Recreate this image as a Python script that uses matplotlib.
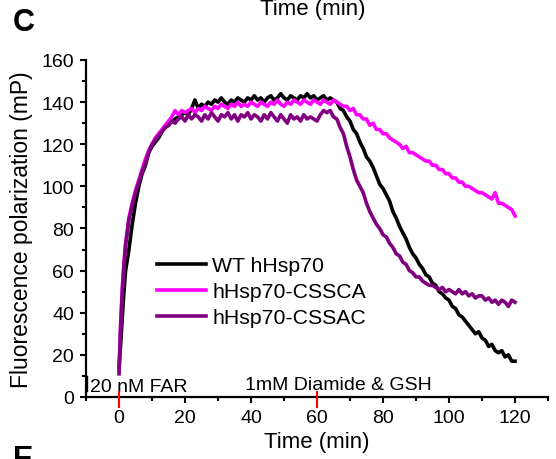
import matplotlib
matplotlib.use("Agg")
import matplotlib.pyplot as plt
from matplotlib.ticker import MultipleLocator

plt.rcParams['font.family'] = ['Liberation Sans', 'DejaVu Sans']

# time points (min)
time = [0, 0.5, 1, 1.5, 2, 3, 4, 5, 6, 7, 8, 9, 10,
        11, 12, 13, 14, 15, 16, 17, 18, 19, 20,
        21, 22, 23, 24, 25, 26, 27, 28, 29, 30,
        31, 32, 33, 34, 35, 36, 37, 38, 39, 40,
        41, 42, 43, 44, 45, 46, 47, 48, 49, 50,
        51, 52, 53, 54, 55, 56, 57, 58, 59, 60,
        61, 62, 63, 64, 65, 66, 67, 68, 69, 70,
        71, 72, 73, 74, 75, 76, 77, 78, 79, 80,
        81, 82, 83, 84, 85, 86, 87, 88, 89, 90,
        91, 92, 93, 94, 95, 96, 97, 98, 99, 100,
        101, 102, 103, 104, 105, 106, 107, 108, 109, 110,
        111, 112, 113, 114, 115, 116, 117, 118, 119, 120]

# fluorescence polarization (mP)
wt = [14, 25, 38, 50, 60, 70, 82, 92, 100, 106, 110, 116, 119,
      121, 123, 126, 128, 129, 131, 132, 133, 134, 135,
      134, 137, 141, 137, 139, 138, 140, 139, 141, 140,
      142, 140, 139, 141, 140, 142, 141, 140, 142, 141,
      143, 141, 142, 140, 142, 143, 141, 142, 144, 142,
      141, 143, 142, 141, 143, 142, 144, 142, 143, 141,
      142, 143, 141, 142, 141, 140, 137, 136, 133, 131,
      127, 125, 121, 118, 114, 112, 109, 105, 101, 99,
      96, 93, 88, 85, 81, 78, 75, 71, 68, 66,
      63, 61, 58, 57, 54, 53, 50, 49, 47, 46,
      43, 42, 39, 38, 36, 34, 32, 30, 31, 28,
      27, 24, 25, 22, 21, 22, 19, 20, 17, 17]

cssca = [12, 35, 52, 64, 73, 85, 92, 98, 103, 108, 113, 117, 120,
         123, 125, 127, 129, 131, 133, 136, 134, 136, 135,
         136, 137, 135, 137, 136, 138, 137, 136, 138, 137,
         139, 138, 137, 139, 138, 140, 138, 139, 138, 140,
         139, 138, 140, 139, 138, 140, 139, 141, 139, 138,
         140, 139, 141, 140, 139, 141, 140, 139, 141, 140,
         139, 141, 140, 139, 141, 140, 139, 138, 138, 136,
         137, 134, 134, 132, 132, 129, 130, 127, 127, 125,
         125, 123, 122, 121, 120, 118, 119, 116, 116, 115,
         114, 113, 112, 112, 110, 110, 108, 108, 106, 106,
         104, 104, 102, 102, 100, 100, 99, 98, 97, 97,
         96, 95, 94, 97, 92, 92, 91, 90, 89, 86]

cssac = [11, 33, 50, 62, 72, 84, 91, 97, 102, 107, 111, 116, 120,
         122, 124, 126, 128, 129, 131, 130, 132, 133, 131,
         134, 132, 134, 133, 131, 134, 132, 135, 133, 131,
         134, 133, 135, 132, 134, 131, 134, 133, 135, 132,
         134, 133, 131, 134, 132, 135, 133, 131, 134, 132,
         130, 134, 132, 133, 131, 134, 132, 133, 132, 131,
         134, 136, 135, 136, 133, 132, 128, 125, 119, 114,
         108, 103, 100, 97, 92, 88, 85, 82, 80, 77,
         76, 73, 71, 68, 67, 64, 63, 60, 59, 57,
         57, 55, 54, 53, 53, 52, 51, 52, 50, 51,
         50, 49, 51, 49, 50, 48, 49, 47, 48, 48,
         46, 47, 45, 46, 44, 46, 45, 43, 46, 45]

labels = ['WT hHsp70', 'hHsp70-CSSCA', 'hHsp70-CSSAC']
colors = ['black', '#ff00ff', '#800080']
event_times = [0, 60]

fig = plt.figure(figsize=(5.56, 4.6), dpi=100)
ax = fig.add_axes([0.1547, 0.1348, 0.8309, 0.7326])

for y, lab, c in zip([wt, cssca, cssac], labels, colors):
    ax.plot(time, y, color=c, lw=2.6, label=lab)

ax.set_xlim(-10, 130)
ax.set_ylim(0, 160)
ax.xaxis.set_major_locator(MultipleLocator(20))
ax.xaxis.set_minor_locator(MultipleLocator(10))
ax.yaxis.set_major_locator(MultipleLocator(20))
ax.yaxis.set_minor_locator(MultipleLocator(10))

for s in ['top', 'right']:
    ax.spines[s].set_visible(False)
for s in ['left', 'bottom']:
    ax.spines[s].set_linewidth(1.6)
ax.tick_params(which='major', length=4.5, width=1.5, labelsize=14, pad=4)
ax.tick_params(which='minor', length=2.8, width=1.5)

ax.set_xlabel('Time (min)', fontsize=16)
ax.set_ylabel('Fluorescence polarization (mP)', fontsize=16.5)
ax.xaxis.set_label_coords(0.5, -0.1)
ax.yaxis.set_label_coords(-0.115, 0.5)

# additions markers
for t in event_times:
    ax.plot([t, t], [-4.8, 2.4], color='red', lw=1.5, clip_on=False, zorder=5)
ax.plot([-9.7, -9.7], [2.9, 10], color='black', lw=1)
ax.text(-8.8, 3, '20 nM FAR', fontsize=14, va='baseline', ha='left')
ax.text(38.2, 4, '1mM Diamide & GSH', fontsize=14, va='baseline', ha='left')

ax.legend(loc='upper left', bbox_to_anchor=(0.1537, 0.418), frameon=False,
          fontsize=15.3, borderpad=0, borderaxespad=0, handlelength=2.3,
          handletextpad=0.3, labelspacing=0.33)

# panel letters and neighbouring label from the figure
fig.text(24 / 556, 1 - 23 / 460, 'C', fontsize=22, fontweight='bold',
         ha='center', va='center')
fig.text(313 / 556, 1 - 15 / 460, 'Time (min)', fontsize=16,
         ha='center', va='baseline')
fig.text(23 / 556, 1 - 445 / 460, 'E', fontsize=22, fontweight='bold',
         ha='center', va='top')

fig.savefig('out.png', dpi=100)
